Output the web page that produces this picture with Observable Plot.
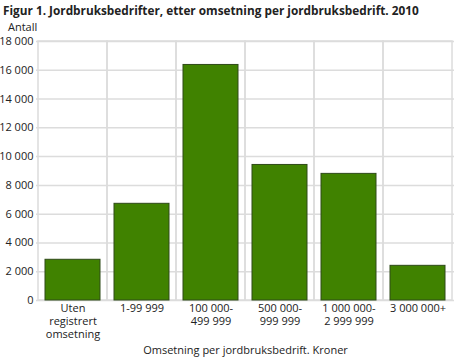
<!DOCTYPE html>
<html><head><meta charset="utf-8">
<script src="https://cdn.jsdelivr.net/npm/d3@7"></script>
<script src="https://cdn.jsdelivr.net/npm/@observablehq/plot@0.6"></script>
<style>
body{margin:0;background:#fff;font-family:"Open Sans",sans-serif;color:#222;}
#title{font-weight:bold;font-size:11.8px;height:20px;line-height:20px;padding-left:3px;white-space:nowrap;}
#ylab{font-size:11px;height:13px;line-height:13px;padding-left:8px;}
</style></head>
<body>
<div id="title">Figur 1. Jordbruksbedrifter, etter omsetning per jordbruksbedrift. 2010</div>
<div id="ylab">Antall</div>
<div id="chart"></div>
<script>
const categories = ["Uten\nregistrert\nomsetning", "1-99 999", "100 000-\n499 999", "500 000-\n999 999", "1 000 000-\n2 999 999", "3 000 000+"];
const values = [2830, 6720, 16370, 9420, 8800, 2410];
const yTicks = [0, 2000, 4000, 6000, 8000, 10000, 12000, 14000, 16000, 18000];
const xLabel = "Omsetning per jordbruksbedrift. Kroner";

const data = categories.map((c, i) => ({category: c, value: values[i]}));
const fmt = d => d3.format(",")(d).replace(/,/g, "\u00a0");

const chart = Plot.plot({
  width: 455,
  height: 329,
  marginTop: 8,
  marginBottom: 62,
  marginLeft: 36,
  marginRight: 1,
  style: {fontFamily: "Open Sans", fontSize: "11px", color: "#222", background: "#fff"},
  x: {domain: categories, padding: 0, label: null},
  y: {domain: [0, 18000], label: null},
  marks: [
    Plot.gridY(yTicks, {stroke: "#dcdcdc", strokeOpacity: 1, strokeWidth: 1.5}),
    Plot.cell(categories, {x: d => d, fill: "none", stroke: "#dcdcdc", strokeWidth: 1.5}),
    Plot.barY(data, {x: "category", y: "value", fill: "#408200", stroke: "#2e4a18", strokeWidth: 1, insetLeft: 7, insetRight: 7}),
    Plot.axisY(yTicks, {tickSize: 0, tickPadding: 3, tickFormat: fmt, label: null, fill: "#222"}),
    Plot.axisX({tickSize: 0, tickPadding: 3, label: xLabel, labelAnchor: "center", labelOffset: 53, labelArrow: "none", lineHeight: 1.15, fill: "#222"})
  ]
});
document.getElementById("chart").append(chart);
</script>
</body></html>
